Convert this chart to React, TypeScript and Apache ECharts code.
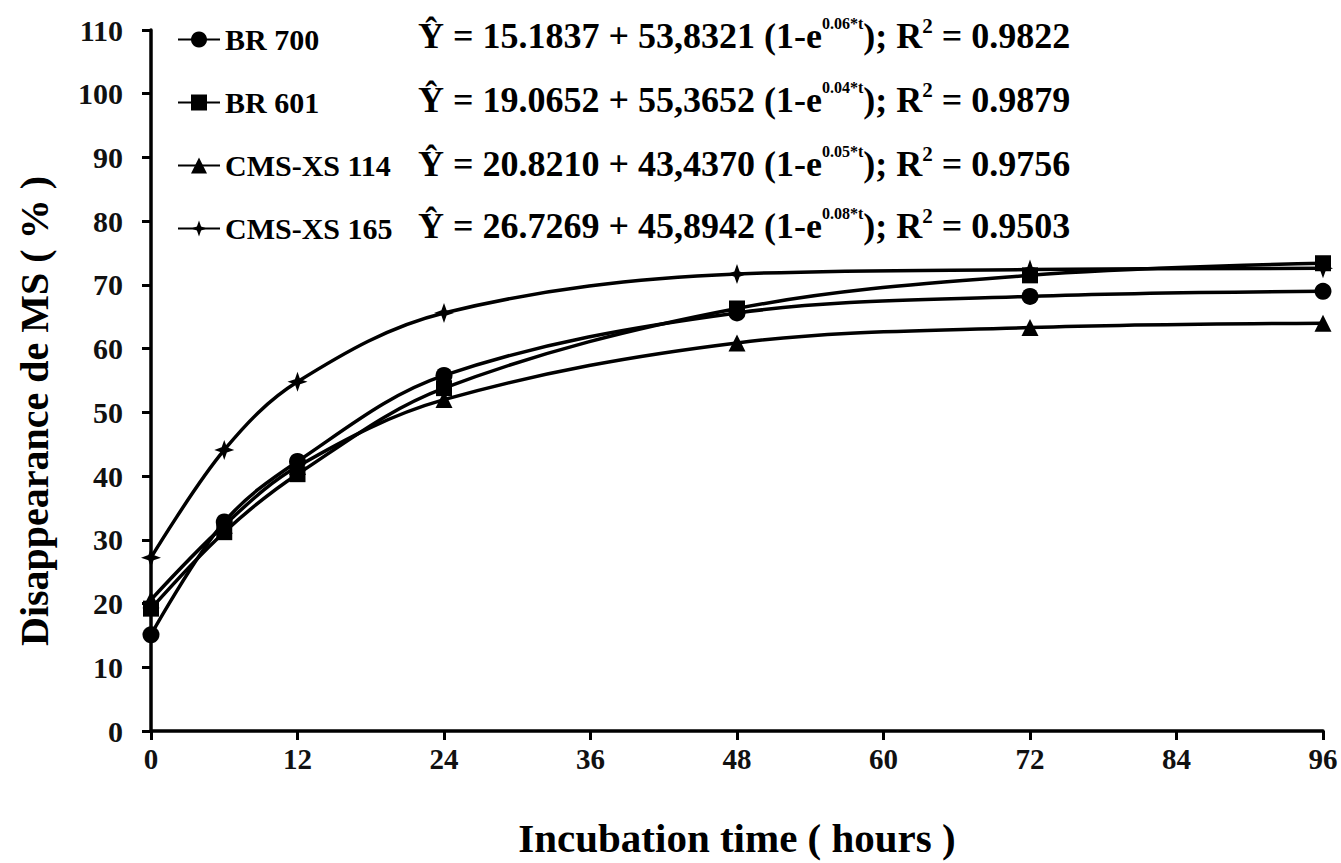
import React, { useEffect, useRef } from 'react';
import * as echarts from 'echarts';

const hours = [0, 6, 12, 24, 48, 72, 96];
const seriesNames = ['BR 700', 'BR 601', 'CMS-XS 114', 'CMS-XS 165'];
const br700 = [15.1, 32.8, 42.3, 55.8, 65.6, 68.2, 69.0];
const br601 = [19.2, 31.2, 40.3, 53.8, 66.3, 71.5, 73.4];
const cms114 = [20.6, 32.3, 41.5, 52.0, 60.9, 63.3, 64.0];
const cms165 = [27.2, 44.1, 54.8, 65.6, 71.7, 72.4, 72.6];
const symbols = ['circle', 'rect', 'triangle', 'path://M0,-10L2.6,-2.6L10,0L2.6,2.6L0,10L-2.6,2.6L-10,0L-2.6,-2.6Z'];
const symbolSizes = [17, 16, 17, 20];
const intercepts = ['15.1837', '19.0652', '20.8210', '26.7269'];
const asymptotes = ['53,8321', '55,3652', '43,4370', '45,8942'];
const rates = ['0.06*t', '0.04*t', '0.05*t', '0.08*t'];
const r2Values = ['0.9822', '0.9879', '0.9756', '0.9503'];
const yTicks = { min: 0, max: 110, interval: 10 };
const xTicks = { min: 0, max: 96, interval: 12 };

const FONT = '"Liberation Serif", "Times New Roman", serif';

export default function App() {
  const ref = useRef<HTMLDivElement>(null);
  useEffect(() => {
    const chart = echarts.init(ref.current!, null, { renderer: 'svg' });
    const data = [br700, br601, cms114, cms165];
    const rowY = [36, 100, 164, 226];
    const equations = rowY.map((y, i) => ({
      type: 'text',
      x: 418,
      y,
      style: {
        text: `{n|Ŷ = ${intercepts[i]} + ${asymptotes[i]} (1-e}{s|${rates[i]}}{n|); R}{s2|2}{n| = ${r2Values[i]}}`,
        align: 'left',
        verticalAlign: 'middle',
        rich: {
          n: { fontFamily: FONT, fontWeight: 'bold', fontSize: 36, lineHeight: 42, fill: '#000', verticalAlign: 'middle' },
          s: { fontFamily: FONT, fontWeight: 'bold', fontSize: 16, lineHeight: 18, fill: '#000', verticalAlign: 'top' },
          s2: { fontFamily: FONT, fontWeight: 'bold', fontSize: 21, lineHeight: 25, fill: '#000', verticalAlign: 'top' },
        },
      },
    }));
    chart.setOption({
      animation: false,
      backgroundColor: '#fff',
      grid: { left: 151, right: 18, top: 30, bottom: 132, containLabel: false },
      legend: {
        orient: 'vertical',
        left: 172,
        top: 19,
        itemWidth: 42,
        itemHeight: 20,
        itemGap: 32,
        data: seriesNames,
        textStyle: { fontFamily: FONT, fontWeight: 'bold', fontSize: 30, lineHeight: 31, color: '#000' },
      },
      xAxis: {
        type: 'value',
        min: xTicks.min,
        max: xTicks.max,
        interval: xTicks.interval,
        name: 'Incubation time ( hours )',
        nameLocation: 'middle',
        nameGap: 86,
        nameTextStyle: { fontFamily: FONT, fontWeight: 'bold', fontSize: 41, color: '#000' },
        axisLine: { lineStyle: { color: '#000', width: 3.5 } },
        axisTick: { show: true, length: 9, lineStyle: { color: '#000', width: 3 } },
        axisLabel: { margin: 13, fontFamily: FONT, fontWeight: 'bold', fontSize: 29, color: '#111' },
        splitLine: { show: false },
      },
      yAxis: {
        type: 'value',
        min: yTicks.min,
        max: yTicks.max,
        interval: yTicks.interval,
        axisLine: { show: true, lineStyle: { color: '#000', width: 3.5 } },
        axisTick: { show: true, length: 9, lineStyle: { color: '#000', width: 3 } },
        axisLabel: { margin: 28, fontFamily: FONT, fontWeight: 'bold', fontSize: 30, color: '#111' },
        splitLine: { show: false },
      },
      graphic: [
        {
          type: 'text',
          x: 34,
          y: 411,
          rotation: Math.PI / 2,
          style: {
            text: 'Disappearance de MS ( % )',
            align: 'center',
            verticalAlign: 'middle',
            fontFamily: FONT,
            fontWeight: 'bold',
            fontSize: 40,
            fill: '#000',
          },
        },
        ...equations,
      ],
      series: data.map((vals, i) => ({
        name: seriesNames[i],
        type: 'line',
        smooth: 0.35,
        data: hours.map((h, j) => [h, vals[j]]),
        symbol: symbols[i],
        symbolSize: symbolSizes[i],
        showAllSymbol: true,
        lineStyle: { color: '#000', width: 3.5 },
        itemStyle: { color: '#000' },
        emphasis: { disabled: true },
      })),
    });
    return () => chart.dispose();
  }, []);
  return <div ref={ref} style={{ position: 'fixed', left: 0, top: 0, width: 1341, height: 863 }} />;
}
